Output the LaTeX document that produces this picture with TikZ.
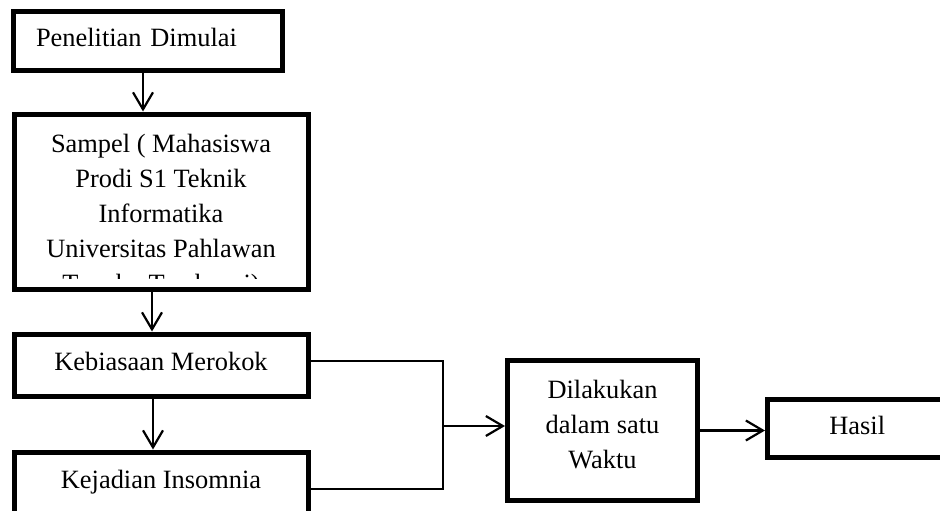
\documentclass[tikz,border=0pt]{standalone}
\usepackage{fontspec}
\setmainfont{Liberation Serif}
\usetikzlibrary{arrows.meta}
\tikzset{
  box/.style={draw, line width=5pt, inner sep=0pt, font=\fontsize{26.4pt}{35pt}\selectfont},
  onel/.style={text height=18pt, text depth=7pt},
  txt/.style={inner sep=0pt, font=\fontsize{26.4pt}{35pt}\selectfont},
  conn/.style={line width=2pt},
  arr/.style={line width=2.2pt, -{Straight Barb[length=17pt,width=20pt]}}
}
\begin{document}
\begin{tikzpicture}[x=1pt,y=-1pt]
\clip (0,0) rectangle (940,511);
\fill[white] (0,0) rectangle (940,511);
% boxes
\node[box, onel, minimum width=269pt, minimum height=59pt, text width=223pt, inner xsep=23pt, align=left] (b1) at (147.5,41.5) {Penelitian Dimulai};
\node[box, minimum width=294pt, minimum height=175pt] (b2) at (161,201.5) {};
\begin{scope}
  \clip ([xshift=2.5pt,yshift=-2.5pt]b2.north west) rectangle ([xshift=-2.5pt,yshift=13pt]b2.south east);
  \node[txt, anchor=north, align=center] (t2) at (161,133.5) {Sampel ( Mahasiswa\\Prodi S1 Teknik\\Informatika\\Universitas Pahlawan\\Tuanku Tambusai)};
\end{scope}
\node[box, onel, minimum width=294pt, minimum height=62pt] (b3) at (161,365) {Kebiasaan Merokok};
\node[box, onel, minimum width=294pt, minimum height=62pt] (b4) at (161,483) {Kejadian Insomnia};
\node[box, minimum width=190pt, minimum height=140pt] (b5) at (602.5,430.5) {};
\node[txt, align=center] (t5) at (602.5,425) {Dilakukan\\dalam satu\\Waktu};
\node[box, onel, minimum width=179.5pt, minimum height=58pt] (b6) at (857.25,428.5) {Hasil};
% helper coordinates
\coordinate (ax1) at (143,0);
\coordinate (ax2) at (152,0);
\coordinate (ax3) at (153,0);
\coordinate (jx) at (443,426);
% vertical arrows
\draw[arr] (b1.south -| ax1) -- (b2.north -| ax1);
\draw[arr] (b2.south -| ax2) -- (b3.north -| ax2);
\draw[arr] (b3.south -| ax3) -- (b4.north -| ax3);
% merge connector
\draw[conn, line join=miter] ([yshift=4pt]b3.east) -- ([yshift=4pt]b3.east -| jx) -- ([yshift=-6pt]b4.east -| jx) -- ([yshift=-6pt]b4.east);
\draw[arr] (jx) -- (jx -| b5.west);
\draw[arr] (b5.east) -- (b5.east -| b6.west);
\end{tikzpicture}
\end{document}
